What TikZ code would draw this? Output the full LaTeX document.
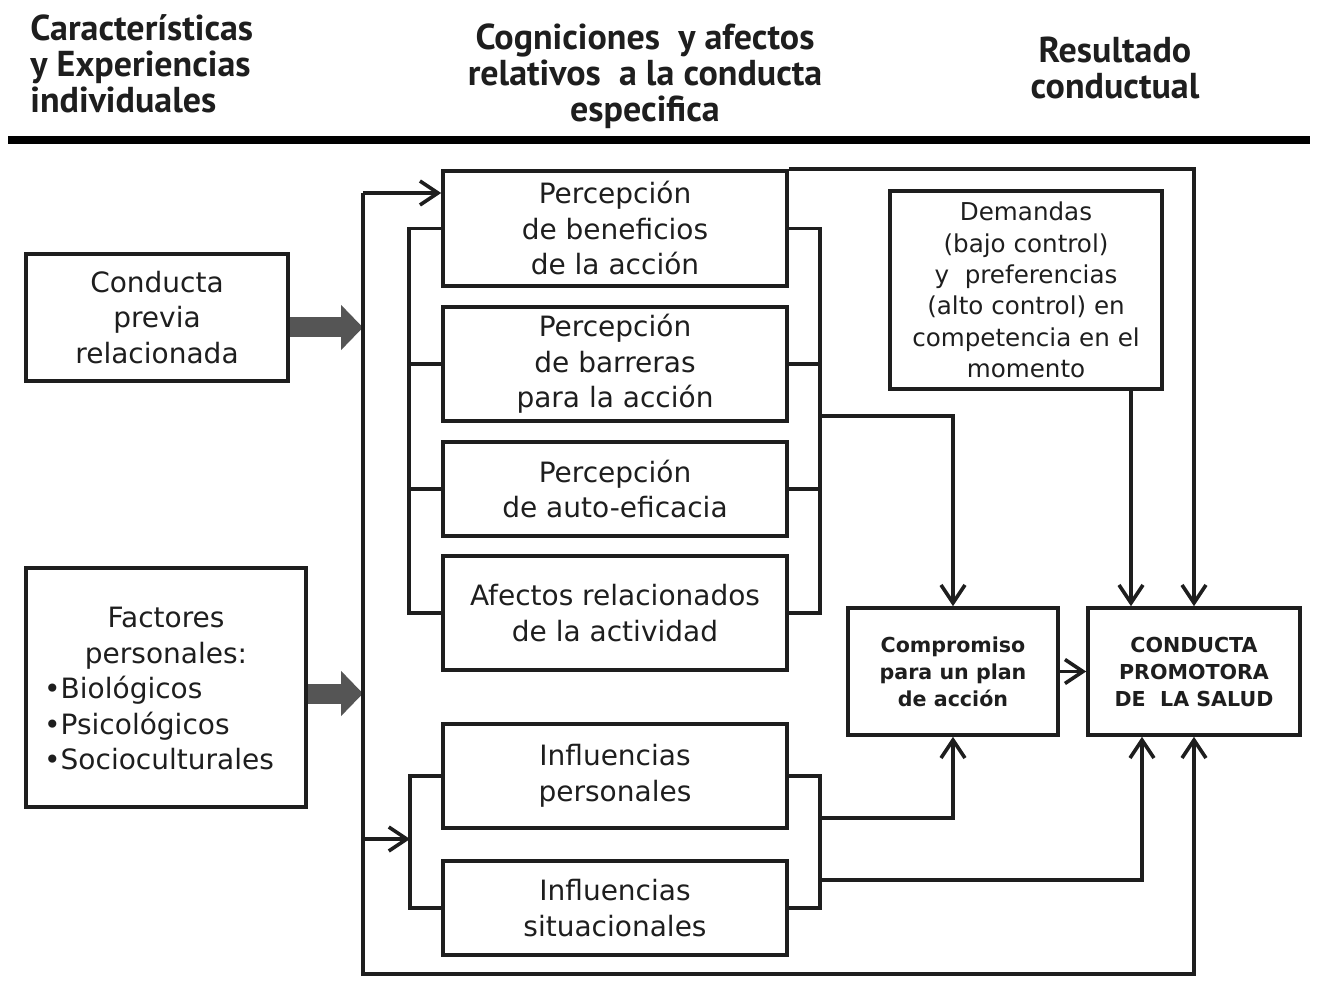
\documentclass[tikz,border=0pt]{standalone}
\usepackage{fontspec}
\setmainfont{DejaVu Sans}
\newfontfamily\headfont{PT Sans}
\usepackage{tikz}
\usetikzlibrary{arrows.meta, positioning, calc}
\definecolor{LineDark}{RGB}{30,30,30}
\definecolor{FatGray}{RGB}{85,85,85}
\tikzset{
  >={Straight Barb[length=9pt,width=12pt]},  % puntas abiertas
  % Cajas del modelo
  box/.style={draw=LineDark,line width=1.8pt,rectangle,align=center,inner sep=0,text=LineDark,font=\fontsize{14}{17.75}\selectfont},
  box small/.style={box,font=\fontsize{12.3}{15.7}\selectfont},
  box bold/.style={box,font=\bfseries\fontsize{10.3}{13.5}\selectfont},
  head/.style={align=center,inner sep=0,text=LineDark,font=\headfont\bfseries\fontsize{18}{18}\selectfont},
  % Conexiones
  connect/.style={line width=1.8pt,LineDark},
  connect arrow/.style={connect,->},
  fat arrow/.style={line width=10pt,FatGray,-{Triangle[length=11pt,width=22pt]}}
}

\begin{document}
\begin{tikzpicture}[x=0.5pt,y=-0.5pt]
    \useasboundingbox (0,0) rectangle (1343,994);
    \node[head,anchor=west,align=left] (hleft) at (30,64) {Características\\y Experiencias\\individuales};
    \node[head] (hmid) at (645,76) {Cogniciones\ \ y afectos\\relativos\ \ a la conducta\\especifica};
    \node[head] (hright) at (1115,68) {Resultado\\conductual};
    \draw[line width=4pt,black] (8,140) -- (1310,140);

    \node[box,minimum width=131pt,minimum height=63.5pt] (prev) at (157,317.5) {Conducta\\previa\\relacionada};
    \node[box,minimum width=140pt,minimum height=119.5pt] (fact) at (166,687.5) {\rule{0pt}{16.5pt}Factores\\personales:\\\begin{tabular}[t]{@{}l@{}}•Biológicos\\•Psicológicos\\•Socioculturales\end{tabular}\hspace*{7pt}};
    \node[box,minimum width=172pt,minimum height=57.5pt] (b1) at (615,228.5) {Percepción\\de beneficios\\de la acción};
    \node[box,minimum width=172pt,minimum height=57pt] (b2) at (615,364) {Percepción\\de barreras\\para la acción};
    \node[box,minimum width=172pt,minimum height=47pt] (b3) at (615,489) {Percepción\\de auto-eficacia};
    \node[box,minimum width=172pt,minimum height=57pt] (b4) at (615,613) {Afectos relacionados\\de la actividad};
    \node[box,minimum width=172pt,minimum height=52pt] (b5) at (615,776) {Influencias\\personales};
    \node[box,minimum width=172pt,minimum height=47pt] (b6) at (615,908) {Influencias\\situacionales};
    \node[box small,minimum width=136pt,minimum height=99pt] (dem) at (1026,290) {Demandas\\(bajo control)\\y\ \ preferencias\\(alto control) en\\competencia en el\\momento};
    \node[box bold,minimum width=105pt,minimum height=63.5pt] (comp) at (953,671.5) {Compromiso\\para un plan\\de acción};
    \node[box bold,minimum width=106pt,minimum height=63.5pt] (cond) at (1194,671.5) {CONDUCTA\\PROMOTORA\\DE\ \ LA SALUD};

    \coordinate (spinetop) at (363,193);
    \coordinate (spinebot) at (363,974);
    \coordinate (lbu) at (409,0);
    \coordinate (rjoin) at (820,416);
    \coordinate (lbl) at (410,839);
    \coordinate (rbl) at (820,818);
    \coordinate (rbl2) at (820,880);
    \coordinate (demx) at (1131,0);
    \coordinate (condx) at (1142,0);

    \draw[fat arrow] ([yshift=-5pt]prev.east) -- ([yshift=-5pt]prev.east -| spinetop);
    \draw[fat arrow] ([yshift=-3pt]fact.east) -- ([yshift=-3pt]fact.east -| spinetop);
    \draw[connect arrow] (spinetop) -- (spinetop -| b1.west);
    \draw[connect arrow] (spinetop) -- (spinebot) -| (cond.south);
    \draw[connect arrow] (spinebot |- lbl) -- (lbl);
    \draw[connect] (b1.west) -| (lbu |- b4.west) -- (b4.west);
    \foreach \b in {b2,b3} \draw[connect] (\b.west) -- (\b.west -| lbu);
    \draw[connect] (b1.east) -| (rjoin |- b4.east) -- (b4.east);
    \foreach \b in {b2,b3} \draw[connect] (\b.east) -- (\b.east -| rjoin);
    \draw[connect arrow] (rjoin) -| (comp.north);
    \draw[connect] (b5.west) -| (lbl |- b6.west) -- (b6.west);
    \draw[connect] (b5.east) -| (rbl |- b6.east) -- (b6.east);
    \draw[connect arrow] (rbl) -| (comp.south);
    \draw[connect arrow] (rbl2) -| (condx |- cond.south);
    \draw[connect arrow] (demx |- dem.south) -- (demx |- cond.north);
    \draw[connect arrow] (b1.north east) -| (cond.north);
    \draw[connect arrow] (comp) -- (cond);
\end{tikzpicture}
\end{document}
